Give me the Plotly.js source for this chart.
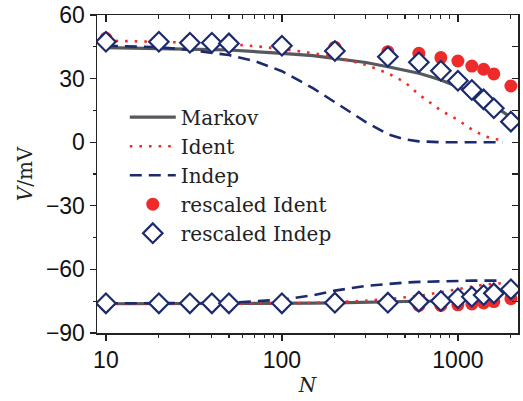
<!DOCTYPE html>
<html>
<head>
<meta charset="utf-8">
<script src="https://cdn.plot.ly/plotly-3.0.1.min.js"></script>
<style>
html,body{margin:0;padding:0;background:#fff;}
#chart{width:523px;height:401px;}
</style>
</head>
<body>
<div id="chart"></div>
<script>
// ---- data ----
const N_pts = [10, 20, 30, 40, 50, 100, 200, 400, 600, 800, 1000, 1200, 1400, 1600, 2000];
const rescaledIdentUpper = [49.0, 48.2, 47.9, 47.7, 47.4, 46.3, 44.8, 42.7, 41.9, 39.9, 38.3, 35.9, 34.4, 32.2, 26.5];
const rescaledIdentLower = [-76.3, -76.3, -76.3, -76.3, -76.3, -76.3, -76.2, -76.5, -77.0, -77.0, -76.7, -76.3, -75.8, -75.2, -73.8];
const rescaledIndepUpper = [47.4, 47.4, 46.9, 46.9, 46.6, 45.5, 43.0, 40.3, 37.7, 33.7, 29.0, 24.6, 20.2, 16.0, 9.7];
const rescaledIndepLower = [-76.0, -76.0, -76.0, -76.0, -76.0, -76.0, -75.7, -75.7, -75.2, -74.9, -73.6, -72.9, -72.1, -71.3, -69.4];

const N_line = [10, 20, 30, 40, 50, 70, 100, 150, 200, 300, 400, 500, 600, 700, 800, 1000, 1200, 1400, 1600, 1800, 2000];
const markovUpper = [44.6, 44.3, 44.0, 43.7, 43.5, 42.8, 41.9, 40.8, 39.6, 37.6, 35.6, 34.0, 32.5, 30.9, 29.3, 26.2, 23.1, 19.9, 17.1, 14.3, 11.7];
const markovLower = [-76.2, -76.2, -76.2, -76.2, -76.2, -76.1, -76.0, -75.9, -75.8, -75.6, -75.5, -75.3, -75.1, -74.9, -74.6, -74.0, -73.2, -72.4, -71.5, -70.5, -69.5];
const identUpper = [47.9, 47.5, 47.0, 46.6, 46.3, 45.3, 44.0, 42.0, 40.2, 36.5, 32.5, 28.3, 22.5, 18.5, 15.0, 10.5, 6.0, 3.0, 1.5, 1.0];
const identLower = [-76.2, -76.2, -76.2, -76.2, -76.2, -76.2, -76.1, -75.8, -75.5, -74.8, -74.0, -73.2, -72.5, -71.6, -70.8, -69.3, -68.1, -67.2, -66.8, -66.5];
const indepUpper = [45.5, 44.8, 43.5, 42.2, 41.1, 38.3, 33.5, 25.5, 18.8, 9.5, 3.8, 1.3, 0.4, 0.1, 0.0, 0.0, 0.0, 0.0, 0.0, 0.0];
const indepLower = [-76.0, -76.0, -76.0, -76.0, -75.8, -75.0, -74.3, -72.2, -70.0, -67.8, -66.8, -66.2, -65.9, -65.7, -65.6, -65.4, -65.3, -65.3, -65.3, -65.3];

const xTickVals = [10, 100, 1000];
const xTickText = ['10', '100', '1000'];
const xMinorVals = [20, 30, 40, 50, 60, 70, 80, 90, 200, 300, 400, 500, 600, 700, 800, 900, 2000];
const yTickVals = [-90, -60, -30, 0, 30, 60];
const yTickText = ['\u221290', '\u221260', '\u221230', '0', '30', '60'];

// ---- styles ----
const cMarkov = '#55585c';
const cIdent = '#ee2b2b';
const cIndep = '#1c2a6e';
const serif = 'DejaVu Serif, serif';
const sans = 'Liberation Sans, Arial, sans-serif';

const xl = (arr) => N_line.slice(0, arr.length);

const traces = [
  {x: xl(markovUpper), y: markovUpper, mode: 'lines', name: 'Markov', legendgroup: 'm',
   line: {color: cMarkov, width: 3.2}},
  {x: xl(markovLower), y: markovLower, mode: 'lines', name: 'Markov', legendgroup: 'm', showlegend: false,
   line: {color: cMarkov, width: 3.2}},
  {x: xl(identUpper), y: identUpper, mode: 'lines', name: 'Ident', legendgroup: 'i',
   line: {color: cIdent, width: 2.6, dash: '2.6px,7px'}},
  {x: xl(identLower), y: identLower, mode: 'lines', name: 'Ident', legendgroup: 'i', showlegend: false,
   line: {color: cIdent, width: 2.6, dash: '2.6px,7px'}},
  {x: xl(indepUpper), y: indepUpper, mode: 'lines', name: 'Indep', legendgroup: 'd',
   line: {color: cIndep, width: 2.6, dash: '12px,7px'}},
  {x: xl(indepLower), y: indepLower, mode: 'lines', name: 'Indep', legendgroup: 'd', showlegend: false,
   line: {color: cIndep, width: 2.6, dash: '12px,7px'}},
  {x: N_pts, y: rescaledIdentUpper, mode: 'markers', name: 'rescaled Ident', legendgroup: 'ri',
   marker: {symbol: 'circle', size: 13, color: cIdent}},
  {x: N_pts, y: rescaledIdentLower, mode: 'markers', name: 'rescaled Ident', legendgroup: 'ri', showlegend: false,
   marker: {symbol: 'circle', size: 13, color: cIdent}},
  {x: N_pts, y: rescaledIndepUpper, mode: 'markers', name: 'rescaled Indep', legendgroup: 'rd',
   marker: {symbol: 'diamond', size: 15, color: '#ffffff', line: {color: cIndep, width: 2.2}}},
  {x: N_pts, y: rescaledIndepLower, mode: 'markers', name: 'rescaled Indep', legendgroup: 'rd', showlegend: false,
   marker: {symbol: 'diamond', size: 15, color: '#ffffff', line: {color: cIndep, width: 2.2}}},
  // invisible trace to activate mirrored axes (top / right ticks)
  {x: [10], y: [0], xaxis: 'x2', yaxis: 'y2', mode: 'markers', showlegend: false, hoverinfo: 'skip',
   marker: {opacity: 0}}
];

const xr = [Math.log10(8.9), Math.log10(2195)];
const yr = [-90, 60];

const layout = {
  width: 523, height: 401,
  margin: {l: 97, r: 5, t: 15, b: 68},
  paper_bgcolor: '#ffffff', plot_bgcolor: '#ffffff',
  showlegend: true,
  legend: {
    x: 0.066, y: 0.74, xanchor: 'left', yanchor: 'top',
    bgcolor: 'rgba(0,0,0,0)', borderwidth: 0,
    font: {family: serif, size: 20, color: '#222'},
    itemwidth: 46, traceorder: 'normal'
  },
  xaxis: {
    type: 'log', range: xr, autorange: false,
    tickvals: xTickVals, ticktext: xTickText,
    ticks: 'outside', ticklen: 6, tickwidth: 1.3, tickcolor: '#222',
    minor: {tickvals: xMinorVals, ticks: 'outside', ticklen: 3, tickwidth: 1.2, tickcolor: '#222', showgrid: false},
    showline: true, linecolor: '#222', linewidth: 1.5, mirror: true,
    showgrid: false, zeroline: false,
    tickfont: {family: sans, size: 23, color: '#111'},
    title: {text: '<i>N</i>', font: {family: serif, size: 20, color: '#222'}, standoff: 6}
  },
  yaxis: {
    range: yr, autorange: false,
    tickvals: yTickVals, ticktext: yTickText,
    ticks: 'outside', ticklen: 6, tickwidth: 1.3, tickcolor: '#222',
    minor: {dtick: 15, ticks: 'outside', ticklen: 3, tickwidth: 1.2, tickcolor: '#222', showgrid: false},
    showline: true, linecolor: '#222', linewidth: 1.5, mirror: true,
    showgrid: false, zeroline: false,
    tickfont: {family: sans, size: 23, color: '#111'},
    title: {text: '<i>V</i>/mV', font: {family: serif, size: 20, color: '#222'}, standoff: 8}
  },
  xaxis2: {
    type: 'log', range: xr, autorange: false, overlaying: 'x', side: 'top', anchor: 'y2',
    tickvals: xTickVals, showticklabels: false,
    ticks: 'inside', ticklen: 7, tickwidth: 1.3, tickcolor: '#222',
    minor: {tickvals: xMinorVals, ticks: 'inside', ticklen: 4, tickwidth: 1.2, tickcolor: '#222', showgrid: false},
    showgrid: false, zeroline: false, showline: false
  },
  yaxis2: {
    range: yr, autorange: false, overlaying: 'y', side: 'right', anchor: 'x2',
    tickvals: yTickVals, showticklabels: false,
    ticks: 'inside', ticklen: 6, tickwidth: 1.3, tickcolor: '#222',
    minor: {dtick: 15, ticks: 'inside', ticklen: 6, tickwidth: 1.2, tickcolor: '#222', showgrid: false},
    showgrid: false, zeroline: false, showline: false
  }
};

Plotly.newPlot('chart', traces, layout, {displayModeBar: false, staticPlot: true});
</script>
</body>
</html>
